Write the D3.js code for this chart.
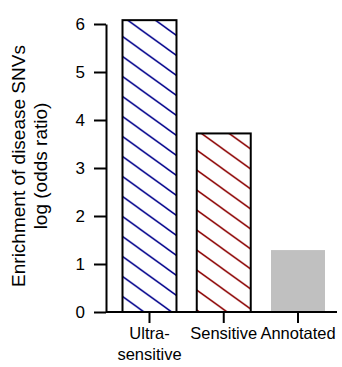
<!DOCTYPE html>
<html>
<head>
<meta charset="utf-8">
<script src="https://cdn.jsdelivr.net/npm/d3@7"></script>
<style>
  html, body { margin: 0; padding: 0; background: #fff; }
  svg { display: block; font-family: "Liberation Sans", Arial, Helvetica, sans-serif; }
</style>
</head>
<body>
<script>
// Enrichment of disease SNVs per element class
const categories = ["Ultra-sensitive", "Sensitive", "Annotated"];
const labelLines = [["Ultra-", "sensitive"], ["Sensitive"], ["Annotated"]];
const values = [6.08, 3.72, 1.29];
const fills = ["hatch-blue", "hatch-red", "solid"];
const yTicks = [0, 1, 2, 3, 4, 5, 6];
const yTitle = ["Enrichment of disease SNVs", "log (odds ratio)"];

const W = 342, H = 367;
const svg = d3.select("body").append("svg").attr("width", W).attr("height", H);

const y = d3.scaleLinear().domain([0, 6]).range([312, 24]);
const x = d3.scaleBand().domain(categories).range([122.5, 325]).paddingInner(0.273).paddingOuter(0);
const axisX = 106;

// diagonal hatch patterns
const defs = svg.append("defs");
function hatch(id, color) {
  const pw = 27.7, ph = 20;
  const p = defs.append("pattern").attr("id", id)
    .attr("patternUnits", "userSpaceOnUse")
    .attr("x", 0).attr("y", 8).attr("width", pw).attr("height", ph);
  p.append("rect").attr("width", pw).attr("height", ph).attr("fill", "#fff");
  p.append("path")
    .attr("d", `M${-pw},${-ph}L${2 * pw},${2 * ph}M${-pw},0L${pw},${2 * ph}M0,${-ph}L${2 * pw},${ph}`)
    .attr("stroke", color).attr("stroke-width", 1.5);
}
hatch("hatch-blue", "#00008b");
hatch("hatch-red", "#8b0000");

const bars = svg.append("g");
categories.forEach((c, i) => {
  const r = bars.append("rect")
    .attr("x", x(c))
    .attr("y", y(values[i]))
    .attr("width", x.bandwidth())
    .attr("height", y(0) - y(values[i]));
  if (fills[i] === "solid") {
    r.attr("fill", "#c0c0c0");
  } else {
    r.attr("fill", `url(#${fills[i]})`).attr("stroke", "#000").attr("stroke-width", 2);
  }
});

// y axis
const gy = svg.append("g").attr("transform", `translate(${axisX},0)`)
  .call(d3.axisLeft(y).tickValues(yTicks).tickFormat(d3.format("d")).tickSize(12).tickSizeOuter(0).tickPadding(9));
gy.select(".domain").attr("stroke-width", 2);
gy.selectAll(".tick line").attr("stroke-width", 2);
gy.selectAll(".tick text").attr("font-size", 17).attr("fill", "#000").attr("font-family", null);

// x axis
const gx = svg.append("g").attr("transform", `translate(0,${y(0)})`)
  .call(d3.axisBottom(x).tickSize(11).tickSizeOuter(0).tickFormat(""));
gx.select(".domain").attr("d", `M${axisX},0H337`).attr("stroke-width", 2);
gx.selectAll(".tick line").attr("stroke-width", 2);
gx.selectAll(".tick text").remove();
categories.forEach((c, i) => {
  const t = svg.append("text")
    .attr("text-anchor", "middle")
    .attr("font-size", 16.5)
    .attr("fill", "#000");
  labelLines[i].forEach((ln, j) => {
    t.append("tspan").attr("x", x(c) + x.bandwidth() / 2).attr("y", 339 + j * 21).text(ln);
  });
});

// y axis title
const yt = svg.append("text")
  .attr("transform", `translate(25,${(y(0) + y(6)) / 2 - 2}) rotate(-90)`)
  .attr("text-anchor", "middle")
  .attr("font-size", 19)
  .attr("fill", "#000");
yTitle.forEach((ln, j) => {
  yt.append("tspan").attr("x", 0).attr("y", j * 22).text(ln);
});
</script>
</body>
</html>
